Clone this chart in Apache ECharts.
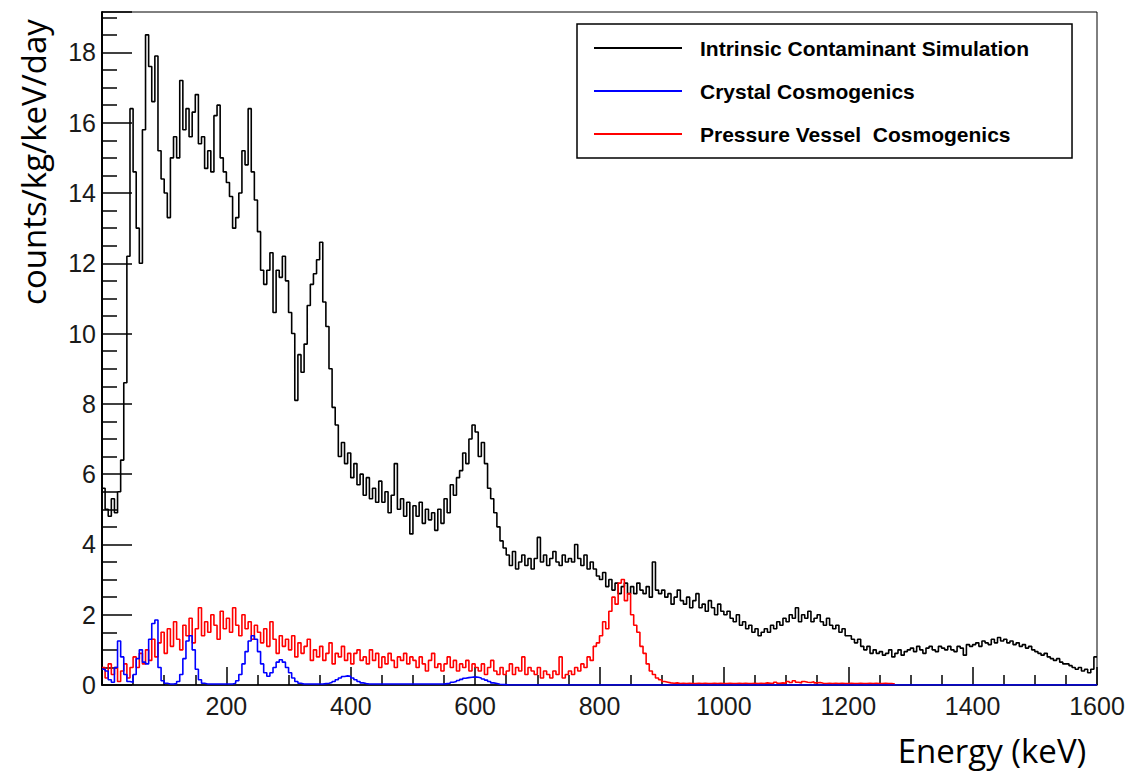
<!DOCTYPE html>
<html>
<head>
<meta charset="utf-8">
<script src="https://cdn.jsdelivr.net/npm/echarts@6/dist/echarts.min.js"></script>
<style>html,body{margin:0;padding:0;background:#fff}#chart{width:1136px;height:772px}</style>
</head>
<body>
<div id="chart"></div>
<script>
// Histogram bin width (keV); each array entry is the content of one bin, starting at 0 keV
const binWidth = 5;

const seriesNames = ['Intrinsic Contaminant Simulation', 'Crystal Cosmogenics', 'Pressure Vessel  Cosmogenics'];

const intrinsic = [
  5.6, 5.0, 4.8, 5.3, 4.9, 5.5, 6.4, 8.6, 12.2, 16.4,
  14.6, 13.0, 12.0, 15.8, 18.5, 17.6, 16.6, 17.9, 15.2, 14.4,
  14.0, 13.3, 15.0, 15.6, 15.0, 17.2, 15.8, 16.4, 15.6, 16.3,
  16.8, 15.4, 15.6, 14.7, 15.2, 14.6, 16.2, 16.5, 15.0, 14.6,
  14.3, 13.9, 13.0, 13.3, 14.0, 15.2, 14.8, 16.4, 14.6, 13.8,
  12.9, 11.8, 11.4, 11.8, 12.3, 10.6, 11.8, 11.6, 12.2, 11.5,
  10.6, 10.0, 8.1, 9.4, 8.9, 9.7, 10.8, 11.4, 11.7, 12.1,
  12.6, 10.9, 10.2, 9.0, 7.9, 7.4, 6.5, 6.9, 6.3, 6.6,
  5.9, 6.3, 5.7, 6.0, 5.4, 5.9, 5.3, 5.6, 5.2, 5.8,
  5.2, 5.5, 4.9, 5.4, 6.3, 5.0, 5.3, 4.8, 5.2, 4.3,
  5.1, 4.8, 5.2, 4.6, 5.0, 4.7, 4.9, 4.4, 5.0, 4.6,
  5.3, 4.9, 5.7, 5.4, 5.9, 6.1, 6.6, 6.3, 7.0, 7.4,
  7.2, 6.5, 6.9, 6.3, 5.6, 5.3, 4.9, 4.5, 4.1, 3.9,
  3.7, 3.4, 3.8, 3.3, 3.5, 3.7, 3.4, 3.6, 3.3, 3.6,
  4.2, 3.5, 3.7, 3.4, 3.6, 3.8, 3.5, 3.4, 3.7, 3.5,
  3.6, 3.5, 4.0, 3.6, 3.4, 3.7, 3.3, 3.5, 3.3, 3.1,
  3.0, 3.2, 2.8, 3.0, 2.7, 2.9, 2.6, 2.8, 2.9, 2.6,
  2.8, 2.6, 2.9, 2.7, 2.6, 2.8, 2.5, 3.5, 2.7, 2.6,
  2.7, 2.5, 2.6, 2.3, 2.5, 2.7, 2.4, 2.3, 2.5, 2.2,
  2.4, 2.6, 2.2, 2.3, 2.1, 2.4, 2.2, 2.0, 2.3, 2.1,
  2.0, 2.1, 1.9, 1.8, 2.0, 1.7, 1.8, 1.6, 1.7, 1.5,
  1.6, 1.4, 1.5, 1.6, 1.5, 1.7, 1.6, 1.8, 1.7, 1.9,
  1.8, 2.0, 1.9, 2.2, 1.8, 2.0, 1.9, 2.1, 1.8, 1.9,
  2.0, 1.8, 1.7, 1.9, 1.7, 1.6, 1.7, 1.5, 1.6, 1.4,
  1.4, 1.3, 1.2, 1.3, 1.1, 1.0, 1.1, 0.9, 1.0, 0.9,
  0.95, 0.85, 0.9, 1.0, 0.8, 0.9, 1.0, 0.85, 0.95, 1.0,
  1.05, 0.95, 1.1, 1.0, 0.9, 1.05, 1.1, 1.0, 0.95, 1.1,
  1.05, 1.0, 1.1, 1.0, 0.95, 1.1, 1.05, 0.85, 1.15, 1.1,
  1.15, 1.2, 1.1, 1.25, 1.2, 1.15, 1.3, 1.2, 1.35, 1.25,
  1.3, 1.2, 1.25, 1.15, 1.2, 1.1, 1.15, 1.05, 1.1, 1.0,
  0.95, 0.9, 0.85, 0.9, 0.8, 0.75, 0.7, 0.75, 0.65, 0.6,
  0.6, 0.55, 0.5, 0.45, 0.5, 0.4, 0.45, 0.35, 0.45, 0.8
];

const crystal = [
  0.45, 0.4, 0.15, 0.08, 0.5, 1.25, 0.8, 0.3, 0.1, 0.08,
  0.3, 0.75, 1.0, 0.65, 0.6, 1.3, 1.75, 1.85, 0.5, 0.12,
  0.05, 0.03, 0.03, 0.04, 0.1, 0.3, 0.75, 1.25, 1.4, 1.0,
  0.45, 0.15, 0.05, 0.03, 0.03, 0.03, 0.03, 0.03, 0.03, 0.03,
  0.03, 0.03, 0.05, 0.12, 0.3, 0.6, 0.95, 1.25, 1.4, 1.3,
  0.95, 0.6, 0.35, 0.25, 0.35, 0.5, 0.65, 0.72, 0.65, 0.5,
  0.35, 0.2, 0.1, 0.05, 0.03, 0.03, 0.03, 0.03, 0.03, 0.03,
  0.03, 0.04, 0.05, 0.07, 0.1, 0.15, 0.2, 0.24, 0.26, 0.25,
  0.2, 0.15, 0.1, 0.06, 0.04, 0.03, 0.03, 0.03, 0.03, 0.03,
  0.03, 0.03, 0.03, 0.03, 0.03, 0.03, 0.03, 0.03, 0.03, 0.03,
  0.03, 0.03, 0.03, 0.03, 0.03, 0.03, 0.03, 0.03, 0.03, 0.03,
  0.04, 0.05, 0.08, 0.1, 0.13, 0.16, 0.19, 0.21, 0.22, 0.23,
  0.22, 0.2, 0.17, 0.14, 0.1, 0.06, 0.04, 0.02, 0.01, 0.01,
  0, 0, 0, 0, 0, 0, 0, 0, 0, 0,
  0, 0, 0, 0, 0, 0, 0, 0, 0, 0,
  0, 0, 0, 0, 0, 0, 0, 0, 0, 0,
  0, 0, 0, 0, 0, 0, 0, 0, 0, 0,
  0, 0, 0, 0, 0, 0, 0, 0, 0, 0,
  0, 0, 0, 0, 0, 0, 0, 0, 0, 0,
  0, 0, 0, 0, 0, 0, 0, 0, 0, 0,
  0, 0, 0, 0, 0, 0, 0, 0, 0, 0,
  0, 0, 0, 0, 0, 0, 0, 0, 0, 0,
  0, 0, 0, 0, 0, 0, 0, 0, 0, 0,
  0, 0, 0, 0, 0, 0, 0, 0, 0, 0,
  0, 0, 0, 0, 0, 0, 0, 0, 0, 0,
  0, 0, 0, 0, 0, 0, 0, 0, 0, 0,
  0, 0, 0, 0, 0, 0, 0, 0, 0, 0,
  0, 0, 0, 0, 0, 0, 0, 0, 0, 0,
  0, 0, 0, 0, 0, 0, 0, 0, 0, 0,
  0, 0, 0, 0, 0, 0, 0, 0, 0, 0,
  0, 0, 0, 0, 0, 0, 0, 0, 0, 0,
  0, 0, 0, 0, 0, 0, 0, 0, 0, 0
];

const vessel = [
  0.5, 0.2, 0.6, 0.3, 0.5, 0.1, 0.4, 0.6, 0.2, 0.5,
  0.8, 0.5, 0.9, 0.6, 1.0, 0.7, 1.3, 0.8, 1.2, 1.5,
  0.9, 1.6, 1.1, 1.8, 1.3, 1.0, 1.7, 1.4, 1.9, 1.2,
  1.6, 2.2, 1.4, 1.8, 1.5, 2.0, 1.7, 1.3, 2.1, 1.6,
  1.9, 1.5, 2.2, 1.7, 1.4, 2.0, 1.6, 1.8, 1.3, 1.7,
  1.5, 1.2, 1.6, 1.1, 1.8, 1.3, 0.9, 1.4, 1.1, 1.3,
  1.0, 1.4, 0.8, 1.2, 0.9, 1.1, 1.3, 0.7, 1.0, 0.8,
  1.1, 0.7, 0.9, 1.2, 0.6, 0.9, 0.8, 1.1, 0.7, 0.9,
  0.6, 0.9, 1.0, 0.7, 0.8, 0.6, 1.0, 0.7, 0.9, 0.5,
  0.8, 0.6, 0.9, 0.7, 0.5, 0.8, 0.7, 0.9, 0.6, 0.8,
  0.7, 0.5, 0.8, 0.6, 0.4, 0.7, 0.9, 0.5, 0.6, 0.4,
  0.6, 0.8, 0.5, 0.7, 0.4, 0.6, 0.5, 0.7, 0.4, 0.6,
  0.5, 0.4, 0.6, 0.3, 0.5, 0.7, 0.4, 0.3, 0.5, 0.3,
  0.4, 0.6, 0.3, 0.5, 0.4, 0.8, 0.3, 0.5, 0.4, 0.3,
  0.5, 0.2, 0.4, 0.3, 0.2, 0.4, 0.3, 0.8, 0.2, 0.3,
  0.4, 0.3, 0.5, 0.4, 0.6, 0.5, 0.8, 0.7, 1.1, 1.2,
  1.4, 1.8, 1.6, 2.1, 2.5, 2.3, 2.9, 3.0, 2.4, 2.6,
  2.0, 1.7, 1.5, 1.1, 0.9, 0.6, 0.4, 0.3, 0.2, 0.15,
  0.1, 0.08, 0.06, 0.05, 0.06, 0.04, 0.05, 0.04, 0.05, 0.04,
  0.04, 0.05, 0.04, 0.05, 0.04, 0.04, 0.05, 0.04, 0.05, 0.04,
  0.04, 0.05, 0.04, 0.04, 0.05, 0.04, 0.05, 0.04, 0.04, 0.05,
  0.04, 0.05, 0.04, 0.06, 0.05, 0.04, 0.08, 0.05, 0.06, 0.05,
  0.1, 0.07, 0.12, 0.08, 0.06, 0.1, 0.08, 0.07, 0.09, 0.06,
  0.07, 0.05, 0.04, 0.05, 0.04, 0.05, 0.04, 0.05, 0.04, 0.04,
  0.05, 0.04, 0.04, 0.05, 0.04, 0.04, 0.05, 0.04, 0.05, 0.04,
  0.04, 0.05, 0.04, 0.04, 0.03
];

const xTickValues = [0, 200, 400, 600, 800, 1000, 1200, 1400, 1600];
const yTickValues = [0, 2, 4, 6, 8, 10, 12, 14, 16, 18];

function histPoints(vals) {
  const pts = vals.map((v, i) => [i * binWidth, v]);
  pts.push([vals.length * binWidth, vals[vals.length - 1]]);
  return pts;
}

const chart = echarts.init(document.getElementById('chart'), null, {renderer: 'svg'});
const tickFont = {fontFamily: 'Liberation Sans', fontSize: 25, color: '#1a1a1a'};

chart.setOption({
  animation: false,
  backgroundColor: '#ffffff',
  grid: {left: 102, right: 39, top: 12, bottom: 87, show: true, borderColor: '#000', borderWidth: 1},
  xAxis: {
    type: 'value', min: xTickValues[0], max: xTickValues[xTickValues.length - 1], interval: 200,
    axisLine: {show: true, onZero: false, lineStyle: {color: '#000', width: 1.5}},
    axisTick: {show: true, inside: true, length: 18, lineStyle: {color: '#000', width: 1.5}},
    minorTick: {show: true, splitNumber: 4, length: 10, lineStyle: {color: '#000', width: 1.5}},
    axisLabel: Object.assign({margin: 8, showMinLabel: false, formatter: v => String(v)}, tickFont),
    splitLine: {show: false}
  },
  yAxis: {
    type: 'value', min: yTickValues[0], max: 19.15, interval: 2,
    axisLine: {show: true, lineStyle: {color: '#000', width: 2}},
    axisTick: {show: true, inside: true, length: 30, lineStyle: {color: '#000', width: 1.5}},
    minorTick: {show: true, splitNumber: 4, length: 15, lineStyle: {color: '#000', width: 1.5}},
    axisLabel: Object.assign({margin: 6, showMaxLabel: false, formatter: v => String(v)}, tickFont),
    splitLine: {show: false}
  },
  legend: {
    show: true, orient: 'vertical', left: 577, top: 24,
    data: seriesNames,
    icon: 'rect',
    padding: [12, 43, 12, 17],
    itemWidth: 88, itemHeight: 2, itemGap: 19,
    borderColor: '#000', borderWidth: 1.5, borderRadius: 0, backgroundColor: '#fff',
    textStyle: {fontFamily: 'Liberation Sans', fontWeight: 'bold', fontSize: 21, color: '#000', padding: [0, 0, 0, 13], lineHeight: 24}
  },
  graphic: [
    {type: 'text', x: 33, y: 162, rotation: Math.PI / 2,
     style: {text: 'counts/kg/keV/day', fontFamily: 'Open Sans', fontSize: 33, fill: '#000', textAlign: 'center', textVerticalAlign: 'middle'}},
    {type: 'text', x: 992, y: 750,
     style: {text: 'Energy (keV)', fontFamily: 'Open Sans', fontSize: 33, fill: '#000', textAlign: 'center', textVerticalAlign: 'middle'}}
  ],
  series: [
    {name: seriesNames[0], type: 'line', step: 'end', symbol: 'none', data: histPoints(intrinsic),
     lineStyle: {color: '#000000', width: 1.6}, itemStyle: {color: '#000000'}, z: 2},
    {name: seriesNames[2], type: 'line', step: 'end', symbol: 'none', data: histPoints(vessel),
     lineStyle: {color: '#ff0000', width: 1.6}, itemStyle: {color: '#ff0000'}, z: 3},
    {name: seriesNames[1], type: 'line', step: 'end', symbol: 'none', data: histPoints(crystal),
     lineStyle: {color: '#0000ff', width: 1.6}, itemStyle: {color: '#0000ff'}, z: 4}
  ]
});
</script>
</body>
</html>
